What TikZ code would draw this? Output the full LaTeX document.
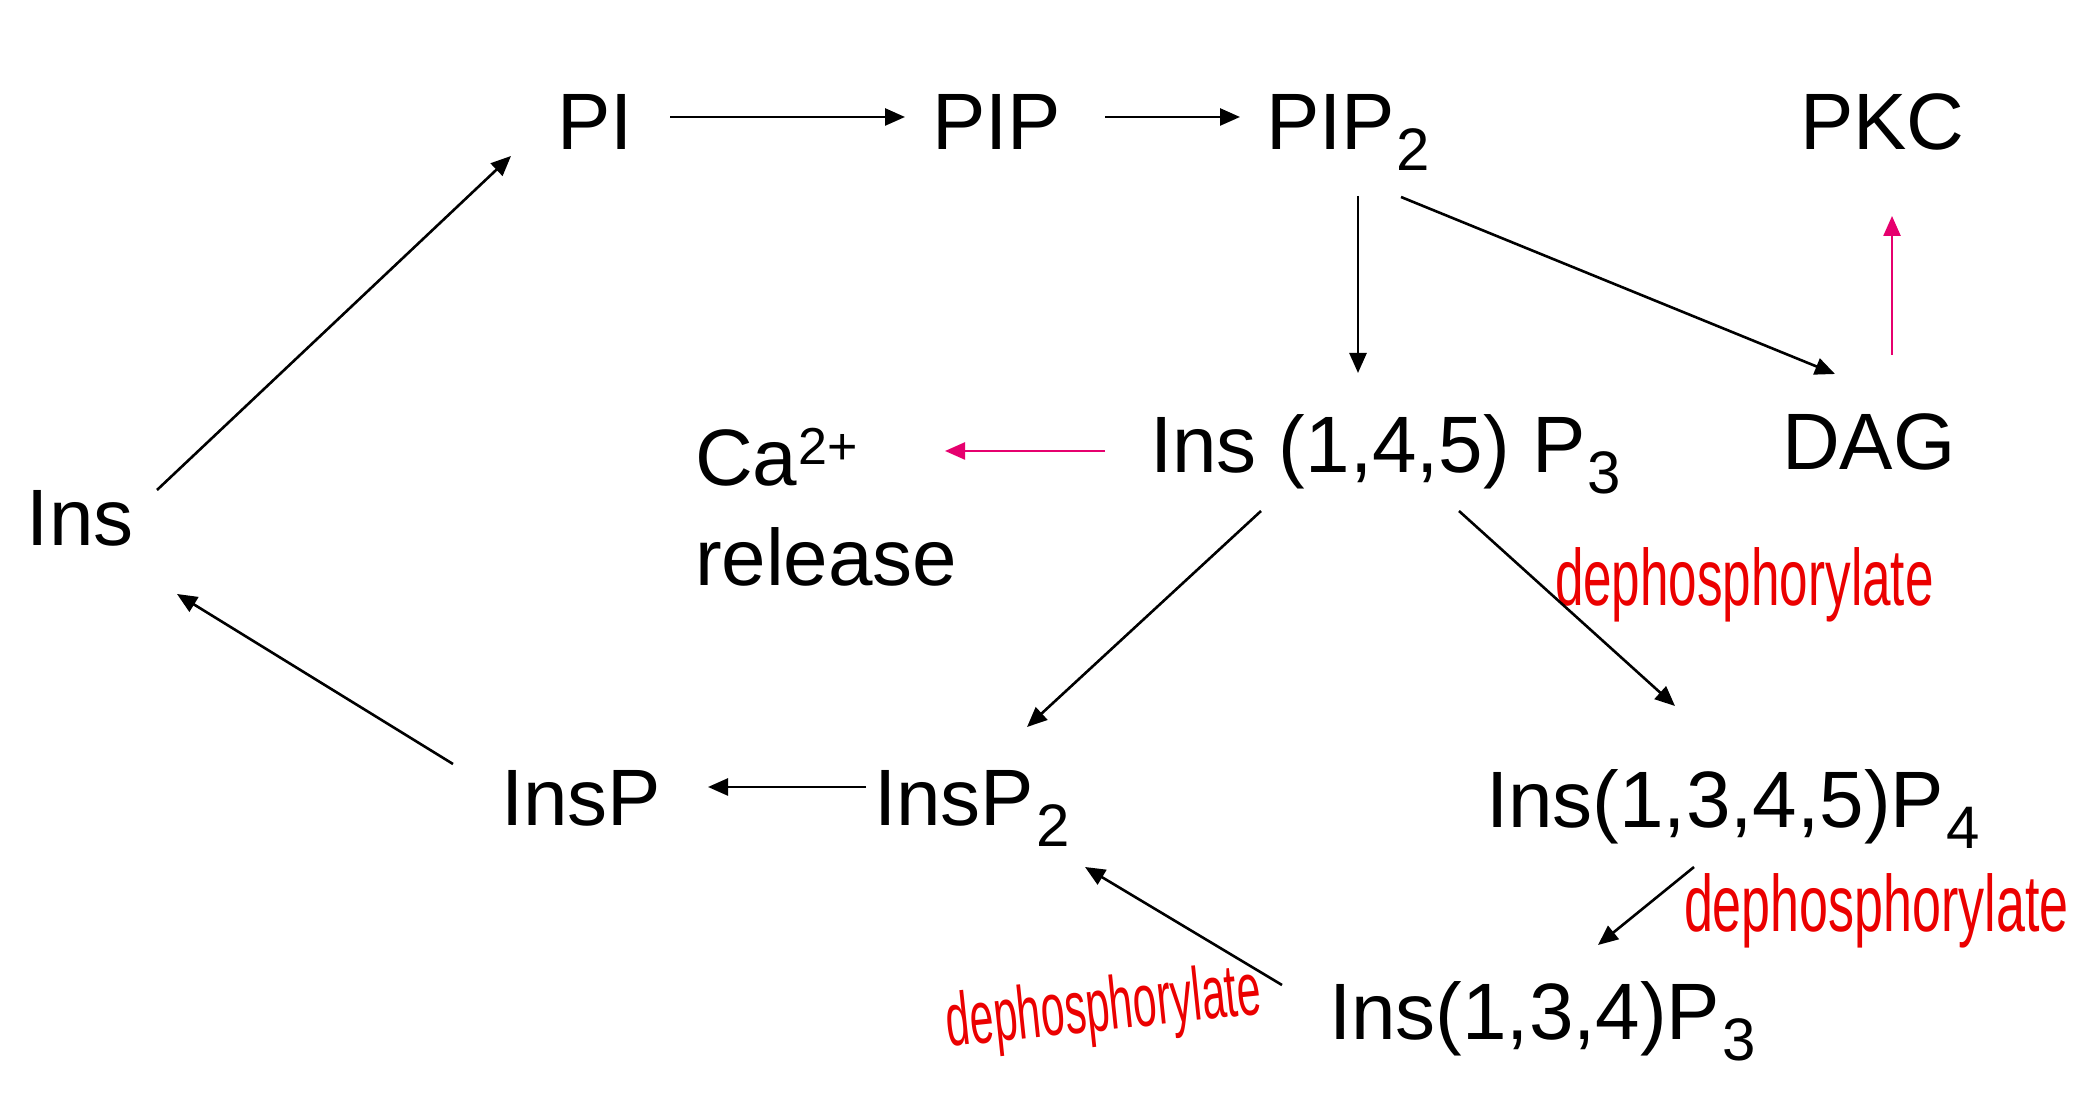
\documentclass[tikz,border=0pt]{standalone}
\usepackage{fontspec}
\setmainfont{Liberation Sans}
\usepackage{graphicx}
\usetikzlibrary{arrows.meta}
\definecolor{pinkarrow}{RGB}{230,0,110}
\definecolor{handred}{RGB}{235,0,0}
\newcommand{\subsc}[1]{\kern2pt\raisebox{-21pt}{\fontsize{60}{66}\selectfont #1}}
\newcommand{\supsc}[1]{\kern1pt\raisebox{21pt}{\fontsize{52}{58}\selectfont #1}}
\newcommand{\hand}[2]{\scalebox{#1}[1]{#2}}
\tikzset{
  lbl/.style={inner sep=0pt, outer sep=0pt, anchor=base west, font=\fontsize{80}{96}\selectfont},
  note/.style={inner sep=0pt, outer sep=0pt, text=handred, font=\fontsize{80}{96}\selectfont},
  arr/.style={line width=2.6pt, -{Triangle[length=20pt,width=17pt]}},
  parr/.style={arr, draw=pinkarrow, line width=2.4pt}
}
\begin{document}
\begin{tikzpicture}[x=1pt,y=1pt]
\useasboundingbox[fill=white] (0,0) rectangle (2088,1106);
% nodes (x = left edge, y = 1106 - baseline)
\node[lbl] (pi)   at (557,956) {PI};
\node[lbl] (pip)  at (932,956) {PIP};
\node[lbl] (pip2) at (1266,956) {PIP\subsc{2}};
\node[lbl] (pkc)  at (1800,956) {PKC};
\node[lbl] (ip3)  at (1150,633) {Ins (1,4,5) P\subsc{3}};
\node[lbl] (dag)  at (1782,636) {DAG};
\node[lbl] (ca)   at (695,620) {Ca\supsc{2+}};
\node[lbl] (rel)  at (695,520) {release};
\node[lbl] (ins)  at (27,560) {Ins};
\node[lbl] (insp) at (501,280) {InsP};
\node[lbl] (insp2) at (874,280) {InsP\subsc{2}};
\node[lbl] (ip4)  at (1486,278) {Ins(1,3,4,5)P\subsc{4}};
\node[lbl] (ip3b) at (1329,67) {Ins(1,3,4)P\subsc{3}};
% handwritten notes
\node[note, anchor=base west] (d1) at (1555,500) {\hand{0.64}{dephosphorylate}};
\node[note, anchor=base west] (d2) at (1684,174) {\hand{0.65}{dephosphorylate}};
\node[note, rotate=6] (d3) at (1104,95) {\fontsize{75}{90}\selectfont\hand{0.57}{dephosphorylate}};
% connectors
\draw[arr] ([xshift=113pt,yshift=33pt]pi.base west) -- ([xshift=-27pt,yshift=33pt]pip.base west);
\draw[arr] ([xshift=173pt,yshift=33pt]pip.base west) -- ([xshift=-26pt,yshift=33pt]pip2.base west);
\draw[arr] ([xshift=92pt,yshift=-46pt]pip2.base west) -- ([xshift=208pt,yshift=100pt]ip3.base west);
\draw[arr] ([xshift=135pt,yshift=-47pt]pip2.base west) -- ([xshift=53pt,yshift=96pt]dag.base west);
\draw[parr] ([xshift=110pt,yshift=115pt]dag.base west) -- ([xshift=92pt,yshift=-66pt]pkc.base west);
\draw[parr] ([xshift=-45pt,yshift=22pt]ip3.base west) -- ([xshift=250pt,yshift=35pt]ca.base west);
\draw[arr] ([xshift=130pt,yshift=56pt]ins.base west) -- ([xshift=-46pt,yshift=-6pt]pi.base west);
\draw[arr] ([xshift=-48pt,yshift=62pt]insp.base west) -- ([xshift=150pt,yshift=-48pt]ins.base west);
\draw[arr] ([xshift=-8pt,yshift=39pt]insp2.base west) -- ([xshift=207pt,yshift=39pt]insp.base west);
\draw[arr] ([xshift=111pt,yshift=-38pt]ip3.base west) -- ([xshift=153pt,yshift=99pt]insp2.base west);
\draw[arr] ([xshift=309pt,yshift=-38pt]ip3.base west) -- ([xshift=189pt,yshift=122pt]ip4.base west);
\draw[arr] ([xshift=208pt,yshift=-39pt]ip4.base west) -- ([xshift=269pt,yshift=94pt]ip3b.base west);
\draw[arr] ([xshift=-47pt,yshift=54pt]ip3b.base west) -- ([xshift=211pt,yshift=-41pt]insp2.base west);
\end{tikzpicture}
\end{document}
